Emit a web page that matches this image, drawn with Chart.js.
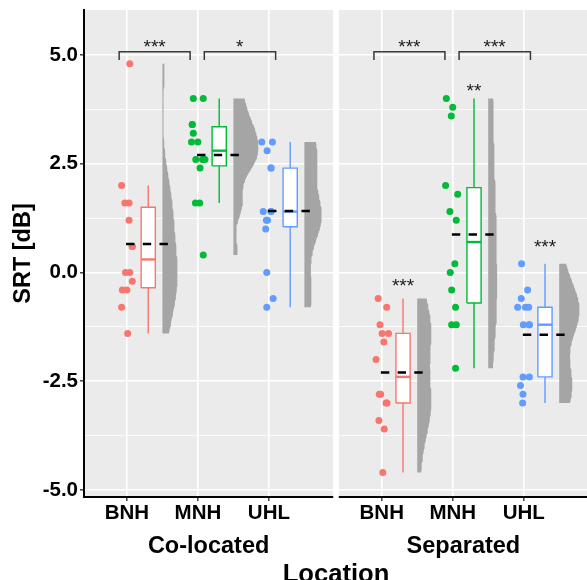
<!DOCTYPE html>
<html>
<head>
<meta charset="utf-8">
<script src="https://cdn.jsdelivr.net/npm/chart.js@4.4.1/dist/chart.umd.min.js"></script>
<style>
  html, body { margin: 0; padding: 0; background: #fff; overflow: hidden; }
  #wrap { width: 587px; height: 580px; overflow: hidden; position: relative; }
  canvas { display: block; }
</style>
</head>
<body>
<div id="wrap"><canvas id="srtChart" width="600" height="580"></canvas></div>
<script>
// ---- data ----
const categories = ['BNH', 'MNH', 'UHL'];
const facets = ['Co-located', 'Separated'];
const yTickValues = [-5, -2.5, 0, 2.5, 5];
const yMinorValues = [-3.75, -1.25, 1.25, 3.75];
const groupColors = ['#F8766D', '#00BA38', '#619CFF'];

// Co-located
const coBNH = [4.8, 2.0, 1.6, 1.6, 1.2, 0.6, 0.6, 0.0, 0.0, -0.2, -0.4, -0.4, -0.8, -1.4];
const coMNH = [4.0, 4.0, 3.4, 3.4, 3.2, 3.0, 3.0, 2.6, 2.6, 2.6, 2.4, 1.6, 1.6, 0.4];
const coUHL = [3.0, 3.0, 2.8, 2.4, 2.4, 1.4, 1.4, 1.4, 1.2, 1.2, 1.0, 0.0, -0.6, -0.8];
// Separated
const sepBNH = [-0.6, -0.8, -1.2, -1.4, -1.4, -1.6, -2.0, -2.8, -2.8, -3.0, -3.0, -3.4, -3.6, -4.6];
const sepMNH = [4.0, 3.8, 3.6, 2.0, 1.8, 1.4, 1.2, 0.2, 0.0, -0.4, -0.8, -1.2, -1.2, -2.2];
const sepUHL = [0.2, -0.4, -0.6, -0.8, -0.8, -0.8, -1.2, -1.2, -1.2, -2.4, -2.4, -2.6, -2.8, -3.0];

// horizontal jitter of the dots (category units), as seen in the picture
const coBNHJit = [0.04, -0.075, -0.03, 0.03, 0.03, 0.075, 0.075, -0.02, 0.04, 0.075, -0.065, 0.0, -0.075, 0.01];
const coMNHJit = [-0.065, 0.075, -0.08, -0.08, -0.065, -0.09, 0.0, -0.03, 0.065, 0.1, 0.03, -0.035, 0.025, 0.075];
const coUHLJit = [-0.1, 0.05, -0.025, 0.03, 0.03, -0.08, 0.03, 0.03, -0.035, -0.02, -0.045, -0.03, 0.06, -0.03];
const sepBNHJit = [-0.05, 0.07, -0.025, 0.005, 0.095, 0.03, -0.08, -0.035, -0.015, 0.06, 0.075, -0.04, 0.035, 0.015];
const sepMNHJit = [-0.09, 0.0, -0.02, -0.1, 0.07, -0.04, 0.05, 0.03, -0.035, -0.015, 0.04, -0.015, 0.05, 0.04];
const sepUHLJit = [-0.03, 0.055, -0.035, -0.085, 0.025, 0.07, -0.005, 0.08, 0.08, -0.01, 0.08, -0.045, -0.01, -0.015];

// significance marks: [facet, x (category units), y (dB), label]
const sigLabels = [
  [0, 1.39, 5.29, '***'], [0, 2.59, 5.29, '*'],
  [1, 1.39, 5.29, '***'], [1, 2.59, 5.29, '***'],
  [1, 2.30, 4.29, '**'], [1, 3.30, 0.69, '***'], [1, 1.30, -0.21, '***']
];
const brackets = [[0, 0.89, 1.89], [0, 2.09, 3.095], [1, 0.89, 1.89], [1, 2.09, 3.095]];

const groups = [
  { facet: 0, cat: 0, values: coBNH, jitter: coBNHJit },
  { facet: 0, cat: 1, values: coMNH, jitter: coMNHJit },
  { facet: 0, cat: 2, values: coUHL, jitter: coUHLJit },
  { facet: 1, cat: 0, values: sepBNH, jitter: sepBNHJit },
  { facet: 1, cat: 1, values: sepMNH, jitter: sepMNHJit },
  { facet: 1, cat: 2, values: sepUHL, jitter: sepUHLJit }
];

// ---- layout constants ----
const FACET_SHIFT = 3.59;     // second panel offset on the shared x scale
const X_MIN = 0.395, PANEL_END = 3.906;
const X_MAX = FACET_SHIFT + PANEL_END;
const Y_MIN = -5.161, Y_MAX = 6.034;
const FONT = '"Liberation Sans", Arial, sans-serif';
const VIOLIN_GREY = '#A5A5A5';

const pos = (facet, local) => local + facet * FACET_SHIFT;

// ---- stats ----
function quantile(sorted, p) {
  const h = (sorted.length - 1) * p, lo = Math.floor(h);
  const hi = Math.min(lo + 1, sorted.length - 1);
  return sorted[lo] + (h - lo) * (sorted[hi] - sorted[lo]);
}
function stats(values) {
  const s = [...values].sort((a, b) => a - b);
  const n = s.length;
  const mean = s.reduce((a, b) => a + b, 0) / n;
  const q1 = quantile(s, 0.25), med = quantile(s, 0.5), q3 = quantile(s, 0.75);
  const iqr = q3 - q1;
  const hiW = Math.max(...s.filter(v => v <= q3 + 1.5 * iqr));
  const loW = Math.min(...s.filter(v => v >= q1 - 1.5 * iqr));
  const sd = Math.sqrt(s.reduce((a, v) => a + (v - mean) ** 2, 0) / (n - 1));
  const bw = 0.9 * Math.min(sd, iqr / 1.34) * Math.pow(n, -0.2);
  return { s, n, mean, q1, med, q3, hiW, loW, bw, min: s[0], max: s[n - 1] };
}
function density(st, y) {
  let sum = 0;
  for (const v of st.s) { const z = (y - v) / st.bw; sum += Math.exp(-0.5 * z * z); }
  return sum / (st.n * st.bw * Math.sqrt(2 * Math.PI));
}

const STEPS = 80;
groups.forEach(g => {
  g.st = stats(g.values);
  g.dens = [];
  for (let i = 0; i <= STEPS; i++) {
    const y = g.st.min + (g.st.max - g.st.min) * i / STEPS;
    g.dens.push([y, density(g.st, y)]);
  }
});
const maxDens = Math.max(...groups.flatMap(g => g.dens.map(d => d[1])));
const VIOLIN_W = 0.352;

// ---- datasets ----
const datasets = [];
const seg = (pts, color, width, order, extra) => Object.assign({
  type: 'scatter', data: pts, showLine: true, borderColor: color, borderWidth: width,
  pointRadius: 0, pointHoverRadius: 0, fill: false, order: order
}, extra || {});

groups.forEach(g => {
  const c = 1 + g.cat;
  const x0 = pos(g.facet, c);
  const st = g.st;
  const color = groupColors[g.cat];

  // half violin
  const vx = x0 + 0.5;
  const poly = g.dens.map(([y, d]) => ({ x: vx + d / maxDens * VIOLIN_W, y }));
  poly.push({ x: vx, y: st.max }, { x: vx, y: st.min });
  datasets.push(seg(poly, 'rgba(0,0,0,0)', 1, 8, { fill: 'shape', backgroundColor: VIOLIN_GREY }));

  // box
  const bx = x0 + 0.3, hw = 0.1;
  datasets.push(seg([
    { x: bx - hw, y: st.q1 }, { x: bx + hw, y: st.q1 }, { x: bx + hw, y: st.q3 },
    { x: bx - hw, y: st.q3 }, { x: bx - hw, y: st.q1 }
  ], color, 1.4, 5, { fill: 'shape', backgroundColor: '#FFFFFF' }));
  datasets.push(seg([{ x: bx, y: st.q3 }, { x: bx, y: st.hiW }], color, 1.4, 5));
  datasets.push(seg([{ x: bx, y: st.q1 }, { x: bx, y: st.loW }], color, 1.4, 5));
  datasets.push(seg([{ x: bx - hw, y: st.med }, { x: bx + hw, y: st.med }], color, 2.4, 4));

  // dots
  datasets.push({
    type: 'scatter',
    data: g.values.map((v, i) => ({ x: x0 + g.jitter[i], y: v })),
    backgroundColor: color, borderWidth: 0, pointRadius: 3.5, pointHoverRadius: 3.5, order: 3
  });

  // mean, dashed
  datasets.push(seg([{ x: x0 - 0.012, y: st.mean }, { x: x0 + 0.58, y: st.mean }],
    '#000000', 2.5, 1, { borderDash: [8.4, 8.3] }));
});

brackets.forEach(([f, a, b]) => {
  datasets.push(seg([
    { x: pos(f, a), y: 4.885 }, { x: pos(f, a), y: 5.076 },
    { x: pos(f, b), y: 5.076 }, { x: pos(f, b), y: 4.885 }
  ], '#3a3a3a', 1.5, 1));
});

// ---- plugin: panels, facet titles, significance text ----
const facetPlugin = {
  id: 'facetPlugin',
  beforeDraw(chart) {
    const { ctx, chartArea: a, scales: { x } } = chart;
    ctx.save();
    ctx.fillStyle = '#EBEBEB';
    const p1r = x.getPixelForValue(PANEL_END);
    const p2l = x.getPixelForValue(FACET_SHIFT + X_MIN);
    ctx.fillRect(a.left, a.top, p1r - a.left, a.bottom - a.top);
    ctx.fillRect(p2l, a.top, a.right - p2l, a.bottom - a.top);
    ctx.restore();
  },
  afterDraw(chart) {
    const { ctx, chartArea: a, scales: { x, y } } = chart;
    ctx.save();
    const p1r = x.getPixelForValue(PANEL_END);
    const p2l = x.getPixelForValue(FACET_SHIFT + X_MIN);
    ctx.fillStyle = '#FFFFFF';
    ctx.fillRect(p1r, a.top - 2, p2l - p1r, a.bottom - a.top + 6);

    ctx.fillStyle = '#000';
    ctx.textAlign = 'center';
    ctx.textBaseline = 'alphabetic';
    ctx.font = 'bold 23.5px ' + FONT;
    facets.forEach((f, i) => {
      const l = x.getPixelForValue(pos(i, X_MIN)), r = x.getPixelForValue(pos(i, PANEL_END));
      ctx.fillText(f, (l + r) / 2, 552.5);
    });
    ctx.font = 'bold 25.6px ' + FONT;
    ctx.fillText('Location', (a.left + a.right) / 2, 581.5);

    ctx.font = '19px ' + FONT;
    ctx.fillStyle = '#1a1a1a';
    sigLabels.forEach(([f, lx, ly, t]) => {
      ctx.fillText(t, x.getPixelForValue(pos(f, lx)), y.getPixelForValue(ly) + 0.57 * 19);
    });
    ctx.restore();
  }
};

const xTickPositions = [0, 1].flatMap(f => categories.map((c, i) => pos(f, 1 + i)));

new Chart(document.getElementById('srtChart'), {
  type: 'scatter',
  data: { datasets },
  options: {
    responsive: false,
    devicePixelRatio: 1,
    animation: false,
    events: [],
    layout: { padding: { top: 10, right: 12, left: 0, bottom: 0 } },
    plugins: { legend: { display: false }, tooltip: { enabled: false } },
    scales: {
      x: {
        type: 'linear', min: X_MIN, max: X_MAX,
        afterBuildTicks: s => { s.ticks = xTickPositions.map(v => ({ value: v })); },
        afterFit: s => { s.height = 83; s.paddingLeft = 0; s.paddingRight = 0; },
        ticks: {
          autoSkip: false, maxRotation: 0, padding: 0, color: '#000',
          font: { family: FONT, size: 20.5, weight: 'bold' },
          callback: (v, i) => categories[i % 3]
        },
        grid: { color: '#FFFFFF', lineWidth: 1.6, tickLength: 4, tickColor: '#333333', tickWidth: 1.4 },
        border: { display: true, color: '#000000', width: 2 }
      },
      y: {
        type: 'linear', min: Y_MIN, max: Y_MAX,
        afterBuildTicks: s => {
          s.ticks = [...yTickValues, ...yMinorValues].sort((a, b) => a - b).map(v => ({ value: v }));
        },
        afterFit: s => { s.width = 84; s.paddingTop = 0; s.paddingBottom = 0; },
        ticks: {
          autoSkip: false, padding: 2, color: '#000',
          font: { family: FONT, size: 20.5, weight: 'bold' },
          callback: v => yTickValues.includes(v) ? v.toFixed(1) : ''
        },
        grid: {
          color: '#FFFFFF',
          lineWidth: c => (c.tick && yMinorValues.includes(c.tick.value)) ? 0.8 : 1.6,
          tickLength: 4, tickWidth: 1.4,
          tickColor: c => (c.tick && yMinorValues.includes(c.tick.value)) ? 'rgba(0,0,0,0)' : '#333333'
        },
        border: { display: true, color: '#000000', width: 2 },
        title: {
          display: true, text: 'SRT [dB]', color: '#000',
          font: { family: FONT, size: 23.5, weight: 'bold', lineHeight: 1.2 },
          padding: { top: 9.4, bottom: 0 }
        }
      }
    }
  },
  plugins: [facetPlugin]
});
</script>
</body>
</html>
